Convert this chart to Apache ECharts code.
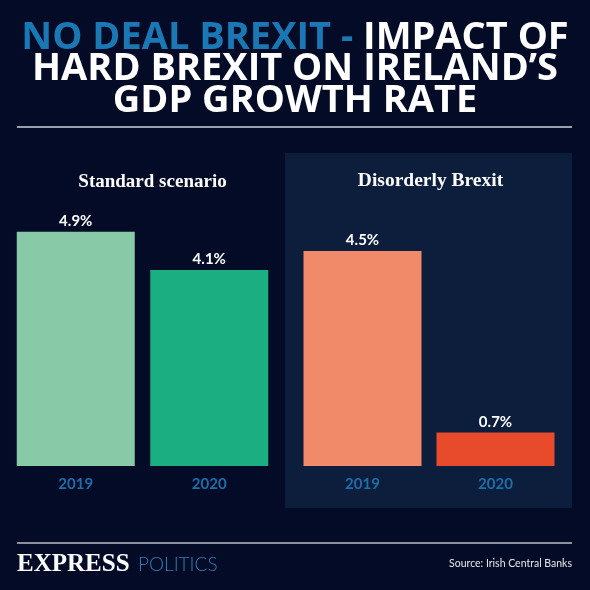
<!DOCTYPE html>
<html>
<head>
<meta charset="utf-8">
<script src="https://cdn.jsdelivr.net/npm/echarts@6/dist/echarts.min.js"></script>
<style>
html,body{margin:0;padding:0;background:#040b26;}
#chart{width:590px;height:590px;}
</style>
</head>
<body>
<div id="chart"></div>
<script>
const years = ['2019', '2020'];
const standardValues = [4.9, 4.1];
const disorderlyValues = [4.5, 0.7];
const panelTitles = ['Standard scenario', 'Disorderly Brexit'];
const standardColors = ['#88c9a7', '#1bae80'];
const disorderlyColors = ['#f18a69', '#e84b2c'];

const chart = echarts.init(document.getElementById('chart'), null, {renderer: 'canvas'});

const labelStyle = {
  show: true,
  position: 'top',
  distance: 3,
  color: '#ffffff',
  fontFamily: 'Lato',
  fontWeight: 'bold',
  fontSize: 15,
  formatter: p => p.value.toFixed(1) + '%'
};

function xAxisFor(idx) {
  return {
    type: 'category',
    gridIndex: idx,
    data: years,
    axisLine: {show: false},
    axisTick: {show: false},
    axisLabel: {color: '#1d6fa9', fontFamily: 'Lato', fontWeight: 'bold', fontSize: 15, margin: 11}
  };
}
function yAxisFor(idx) {
  return {type: 'value', gridIndex: idx, min: 0, max: 5, show: false, splitLine: {show: false}};
}

const option = {
  backgroundColor: '#040b26',
  animation: false,
  title: {
    text: '{b|NO DEAL BREXIT - }{w|IMPACT OF}\n{w|HARD BREXIT ON IRELAND\u2019S}\n{w|GDP GROWTH RATE}',
    left: 'center',
    top: 22,
    padding: 0,
    textStyle: {
      fontSize: 38,
      rich: {
        b: {color: '#1a78b4', fontFamily: 'Open Sans', fontWeight: 'bold', fontSize: 38, lineHeight: 31.5},
        w: {color: '#ffffff', fontFamily: 'Open Sans', fontWeight: 'bold', fontSize: 38, lineHeight: 31.5}
      }
    }
  },
  graphic: [
    {type: 'rect', z: -10, shape: {x: 285, y: 153, width: 287, height: 355}, style: {fill: '#0d1d3c'}},
    {type: 'line', shape: {x1: 17, y1: 127, x2: 572, y2: 127}, style: {stroke: '#cdd2dc', lineWidth: 1.5}},
    {type: 'line', shape: {x1: 17, y1: 543, x2: 572, y2: 543}, style: {stroke: '#8c909e', lineWidth: 2}},
    {type: 'text', x: 152.5, y: 182, style: {text: panelTitles[0], fill: '#ffffff', font: 'bold 19px "Liberation Serif"', textAlign: 'center', textVerticalAlign: 'middle'}},
    {type: 'text', x: 430.5, y: 181, style: {text: panelTitles[1], fill: '#ffffff', font: 'bold 19.5px "Liberation Serif"', textAlign: 'center', textVerticalAlign: 'middle'}},
    {type: 'text', x: 17, y: 565, style: {text: 'EXPRESS', fill: '#ffffff', font: 'bold 25px "Liberation Serif"', textAlign: 'left', textVerticalAlign: 'middle'}},
    {type: 'text', x: 138, y: 565, style: {text: 'POLITICS', fill: '#2c7fb8', font: '300 19px "Lato"', textAlign: 'left', textVerticalAlign: 'middle'}},
    {type: 'text', x: 572, y: 564, style: {text: 'Source: Irish Central Banks', fill: '#e8e8e8', font: '10.5px "Lato"', textAlign: 'right', textVerticalAlign: 'middle'}}
  ],
  grid: [
    {left: 9, width: 267, top: 227, height: 239},
    {left: 296, width: 266, top: 227, height: 239}
  ],
  xAxis: [xAxisFor(0), xAxisFor(1)],
  yAxis: [yAxisFor(0), yAxisFor(1)],
  series: [
    {
      type: 'bar', xAxisIndex: 0, yAxisIndex: 0, barWidth: 118,
      data: standardValues.map((v, i) => ({value: v, itemStyle: {color: standardColors[i]}})),
      label: labelStyle
    },
    {
      type: 'bar', xAxisIndex: 1, yAxisIndex: 1, barWidth: 118,
      data: disorderlyValues.map((v, i) => ({value: v, itemStyle: {color: disorderlyColors[i]}})),
      label: labelStyle
    }
  ]
};
chart.setOption(option);
</script>
</body>
</html>
